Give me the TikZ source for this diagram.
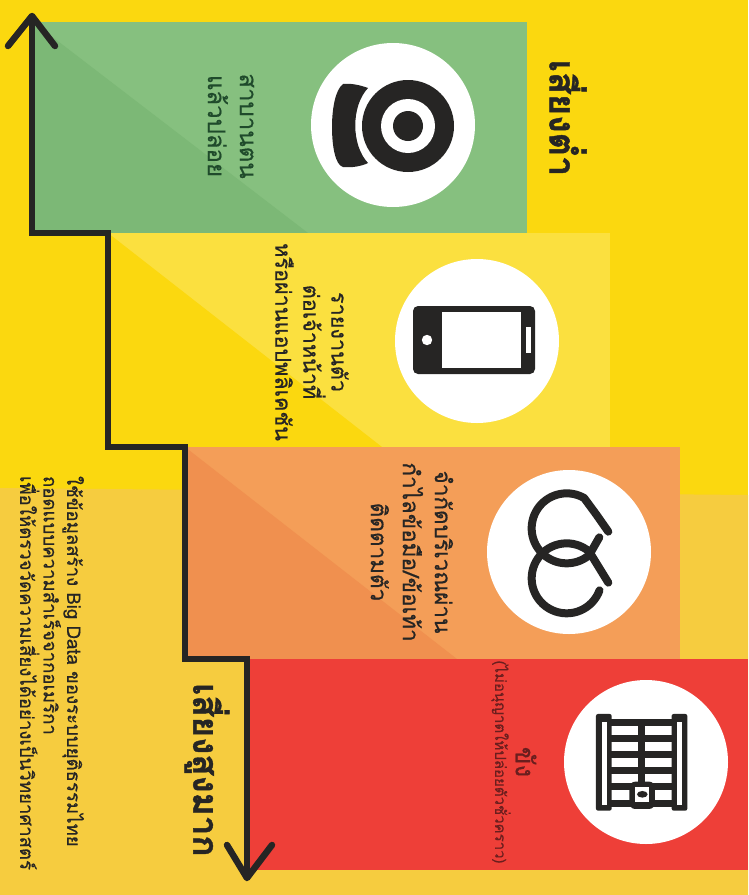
\documentclass[tikz,border=0pt]{standalone}
\usepackage{fontspec}
\newfontfamily\loma[Script=Thai,FakeBold=0.6]{Loma}
\newfontfamily\lomahvy[Script=Thai,FakeBold=1.2]{Loma Bold}
\definecolor{bgyellow}{HTML}{FBD80F}
\definecolor{amberbg}{HTML}{F6CC3F}
\definecolor{greenlt}{HTML}{86C07F}
\definecolor{greendk}{HTML}{7CB876}
\definecolor{yellowlt}{HTML}{FBE03F}
\definecolor{orangelt}{HTML}{F49E58}
\definecolor{orangedk}{HTML}{F0904F}
\definecolor{redlt}{HTML}{EE3F38}
\definecolor{ink}{HTML}{262524}
\definecolor{greenink}{HTML}{1F4A2B}
\definecolor{redink}{HTML}{6A1E1E}
\tikzset{
  x=1pt,y=-1pt,
  txt/.style={rotate=-90,inner sep=0pt,align=center,text=ink,anchor=center},
  badge/.style={circle,fill=white,minimum size=164pt,inner sep=0pt},
  stair/.style={draw=ink,line width=5.5pt,line join=miter},
  chev/.style={draw=ink,line width=6.5pt,line cap=round,line join=round},
  icon/.style={fill=ink,draw=none},
  hoop/.style={draw=ink,line width=8pt,line cap=round,line join=round},
  bar/.style={draw=ink,line width=6.5pt},
}
\begin{document}
\begin{tikzpicture}
\useasboundingbox (0,0) rectangle (748,895);
\fill[bgyellow] (0,0) rectangle (748,895);
\fill[amberbg] (0,488) -- (748,495) -- (748,895) -- (0,895) -- cycle;
% bands
\fill[greenlt] (33,22) rectangle (527,233);
\fill[greendk] (33,22) -- (308,233) -- (33,233) -- cycle;
\fill[yellowlt] (108,233) rectangle (610,447);
\fill[bgyellow] (108,233) -- (382,447) -- (108,447) -- cycle;
\fill[orangelt] (185,447) rectangle (680,659);
\fill[orangedk] (185,447) -- (457,659) -- (185,659) -- cycle;
\fill[redlt] (247,659) rectangle (748,870);
% badges
\node[badge] (b1) at (393,125) {};
\node[badge] (b2) at (477,341) {};
\node[badge] (b3) at (569,552) {};
\node[badge] (b4) at (646,762) {};
% icon 1
\fill[icon] (408,126) circle (46);
\fill[white] (408,126) circle (27);
\fill[icon] (408,126) circle (15);
\fill[icon] (368,88) .. controls (360,85) and (350,83) .. (343,84)
  .. controls (335,90) and (332,110) .. (332,127)
  .. controls (332,145) and (335,165) .. (343,167)
  .. controls (352,168) and (362,166) .. (368,163)
  .. controls (351,145) and (351,106) .. (368,88) -- cycle;
% icon 2
\fill[icon,rounded corners=5pt] (413,306) rectangle (535,374);
\fill[white] (442,312) rectangle (521,368);
\fill[white] (427,340) circle (5.2);
\fill[white] (526,327) rectangle (531,353);
% icon 3
\begin{scope}[shift={(480,460)},x=0.3333pt,y=-0.3333pt]
\draw[hoop] (385,215) -- (350,165) -- plot[domain=-60:-310,samples=50] ({260+105*cos(\x)},{205+105*sin(\x)}) -- (358,232);
\draw[hoop] plot[domain=20:310,samples=50] ({260+105*cos(\x)},{355+105*sin(\x)}) -- (385,368);
% icon 4
\fill[icon,rounded corners=2pt] (348,762) rectangle (395,1052);
\fill[icon,rounded corners=2pt] (575,762) rectangle (622,1052);
\fill[white] (365,785) rectangle (380,1035);
\fill[white] (592,785) rectangle (606,1035);
\foreach \yy in {787,836,884,932,980,1030} \draw[bar] (390,\yy) -- (580,\yy);
\draw[bar] (485,787) -- (485,980);
\fill[icon,rounded corners=6pt] (448,965) rectangle (525,1047);
\fill[white] (465,982) rectangle (506,1025);
\fill[icon] (487,1003) ellipse (16 and 10);
\end{scope}
% stair and arrowheads
\coordinate (top) at (32,16);
\coordinate (bot) at (247,878);
\coordinate (s1) at (32,233);
\coordinate (s2) at (108,233);
\coordinate (s3) at (108,447);
\coordinate (s4) at (185,447);
\coordinate (s5) at (185,659);
\coordinate (s6) at (247,659);
\path[stair] (top) -- (s1) -- (s2) -- (s3) -- (s4) -- (s5) -- (s6) -- (bot);
\coordinate (t1) at (8,46);
\coordinate (t2) at (55,46);
\coordinate (u1) at (227,845);
\coordinate (u2) at (272,845);
\path[chev] (t1) -- (top) -- (t2);
\path[chev] (u1) -- (bot) -- (u2);
% labels
\node[txt,font=\lomahvy\fontsize{36}{40}\selectfont] (low) at (568,118) {เสี่ยงต่ำ};
\node[txt,text=greenink,font=\loma\fontsize{24}{32}\selectfont] (t-1) at (231,126) {สาบานตน\\แล้วปล่อย};
\node[txt,font=\loma\fontsize{21.6}{28}\selectfont] (t-2) at (312,342) {รายงานตัว\\ต่อเจ้าหน้าที่\\หรือผ่านแอปพลิเคชัน};
\node[txt,font=\loma\fontsize{22.5}{32}\selectfont] (t-3) at (412,552) {จำกัดบริเวณผ่าน\\กำไลข้อมือ/ข้อเท้า\\ติดตามตัว};
\node[txt,text=redink,font=\loma\fontsize{26}{30}\selectfont] (t-4a) at (526,762) {ขัง};
\node[txt,text=redink,font=\loma\fontsize{15}{18}\selectfont] (t-4b) at (501,762) {(ไม่อนุญาตให้ปล่อยตัวชั่วคราว)};
\node[txt,font=\lomahvy\fontsize{35}{40}\selectfont] (high) at (207,770) {เสี่ยงสูงมาก};
\node[txt,align=left,font=\loma\fontsize{18.6}{23.5}\selectfont] (note) at (52,673) {ใช้ข้อมูลสร้าง Big Data ของระบบยุติธรรมไทย\\ถอดแบบความสำเร็จจากอเมริกา\\เพื่อให้ตรวจวัดความเสี่ยงได้อย่างเป็นวิทยาศาสตร์};
\end{tikzpicture}
\end{document}
